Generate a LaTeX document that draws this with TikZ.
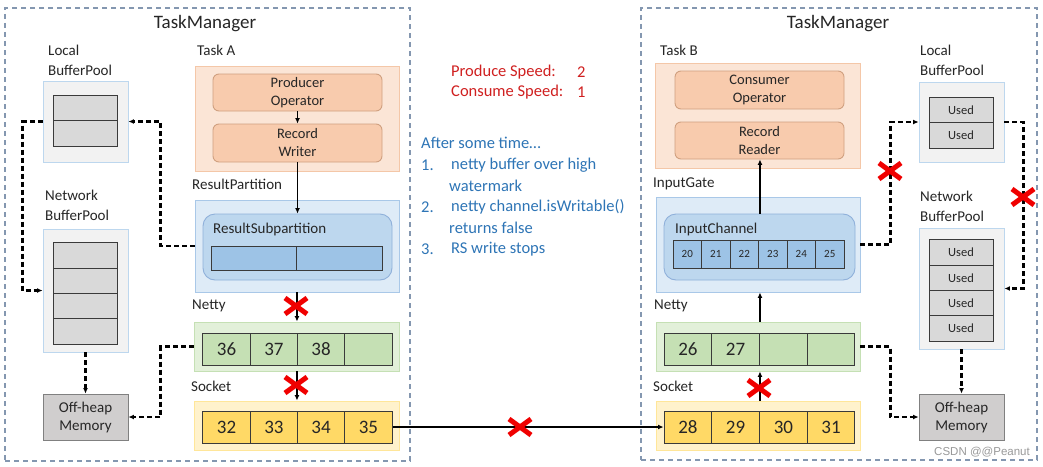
\documentclass[tikz,border=0pt]{standalone}
\usepackage{fontspec}
\setmainfont{Carlito}
\newfontfamily\wmfont{Liberation Sans}
\usetikzlibrary{arrows.meta}
\definecolor{tmc}{HTML}{8497B0}
\definecolor{txt}{HTML}{262626}
\definecolor{peachF}{HTML}{FBE5D6}
\definecolor{peachD}{HTML}{F4C7A8}
\definecolor{peachIF}{HTML}{F8CBAD}
\definecolor{peachID}{HTML}{D0A080}
\definecolor{blueF}{HTML}{DEEBF7}
\definecolor{blueD}{HTML}{A9C8E8}
\definecolor{blueIF}{HTML}{BDD7EE}
\definecolor{blueID}{HTML}{8FB0DA}
\definecolor{blueC}{HTML}{9DC3E6}
\definecolor{greenF}{HTML}{E2F0D9}
\definecolor{greenD}{HTML}{C5E0B4}
\definecolor{greenC}{HTML}{C5E0B4}
\definecolor{yellowF}{HTML}{FFF2CC}
\definecolor{yellowD}{HTML}{FFE699}
\definecolor{yellowC}{HTML}{FFD966}
\definecolor{poolF}{HTML}{F2F2F2}
\definecolor{poolD}{HTML}{BDD7EE}
\definecolor{poolC}{HTML}{D9D9D9}
\definecolor{ohF}{HTML}{D0CECE}
\definecolor{cellD}{HTML}{3A3A3A}
\definecolor{xred}{HTML}{F00000}
\definecolor{redt}{HTML}{D02020}
\definecolor{bluet}{HTML}{2E75B6}
\tikzset{
  tmbox/.style={draw=tmc, dash pattern=on 5pt off 4pt, line width=1.3pt, inner sep=0},
  ttl/.style={font=\fontsize{19}{22}\selectfont, text=txt, inner sep=0},
  lbl/.style={anchor=west, align=left, font=\fontsize{15}{20}\selectfont, text=txt, inner sep=0},
  outer/.style={inner sep=0, line width=0.9pt},
  peach/.style={outer, draw=peachD, fill=peachF},
  peachin/.style={outer, draw=peachID, fill=peachIF, rounded corners=6pt, align=center,
     font=\fontsize{14.5}{18}\selectfont, text=txt, minimum width=169, minimum height=37},
  bluebox/.style={outer, draw=blueD, fill=blueF},
  bluein/.style={outer, draw=blueID, fill=blueIF, rounded corners=12pt},
  greenbox/.style={outer, draw=greenD, fill=greenF},
  yellowbox/.style={outer, draw=yellowD, fill=yellowF},
  poolbox/.style={outer, draw=poolD, fill=poolF, minimum width=85},
  ohbox/.style={outer, draw=gray, fill=ohF, minimum width=85, minimum height=46,
     align=center, font=\fontsize{15}{18}\selectfont, text=txt},
  cell/.style={draw=cellD, line width=1pt, inner sep=0, text=txt},
  bigcell/.style={cell, minimum height=32, font=\fontsize{19}{22}\selectfont},
  gcell/.style={bigcell, fill=greenC, minimum width=47.25},
  ycell/.style={bigcell, fill=yellowC, minimum width=47.25},
  grcell/.style={bigcell, fill=greenC, minimum width=47.75},
  yrcell/.style={bigcell, fill=yellowC, minimum width=47.75},
  bcell/.style={cell, fill=blueC, minimum width=85.5, minimum height=24},
  scell/.style={cell, fill=blueC, minimum width=28.5, minimum height=28, font=\fontsize{11}{13}\selectfont},
  pcell/.style={cell, fill=poolC, minimum width=64, font=\fontsize{12.5}{15}\selectfont},
  solid arrow/.style={line width=1.6pt, draw=black, -{Latex[length=5.5pt,width=5pt]}},
  dash arrow/.style={line width=2.3pt, draw=black, dash pattern=on 5pt off 3pt, -{Latex[length=5.5pt,width=5pt]}},
  redtxt/.style={anchor=west, inner sep=0, text=redt, font=\fontsize{16.5}{20}\selectfont},
  bluetxt/.style={anchor=west, inner sep=0, text=bluet, font=\fontsize{16.5}{20}\selectfont},
  redx/.pic={\draw[xred, line width=5pt] (-11,-8)--(11,8) (-11,8)--(11,-8);}
}
\begin{document}
\begin{tikzpicture}[x=1pt,y=-1pt]
\path[use as bounding box, fill=white] (0,0) rectangle (1043,466);

% ===== Left TaskManager =====
\node[tmbox, minimum width=405, minimum height=453] (tmL) at (207.5,234.5) {};
\node[ttl] (tmLt) at (205,24) {TaskManager};

\node[lbl] (taskA) at (197,50) {Task A};
\node[peach, minimum width=204, minimum height=105] (taskAbox) at (297,118.5) {};
\node[peachin] (prod) at (297.5,92.5) {Producer\\Operator};
\node[peachin, minimum height=38] (writer) at (297.5,143) {Record\\Writer};

\node[lbl] (rpl) at (192,184) {ResultPartition};
\node[bluebox, minimum width=204, minimum height=92] (rp) at (297,246) {};
\node[bluein, minimum width=189, minimum height=66] (rs) at (297.5,247) {};
\node[lbl] (rsl) at (213,229) {ResultSubpartition};
\node[bcell] (rs1) at (253.75,258) {};
\node[bcell] (rs2) at (339.25,258) {};

\node[lbl] (nettyLl) at (192,306) {Netty};
\node[greenbox, minimum width=205, minimum height=49] (nettyL) at (296.5,346.5) {};
\foreach \i/\x/\t in {1/226.6/36, 2/273.9/37, 3/321.1/38, 4/368.4/{}}
  \node[gcell] (nL\i) at (\x,349) {\t};

\node[lbl] (sockLl) at (191,386) {Socket};
\node[yellowbox, minimum width=205, minimum height=49] (sockL) at (296.5,425.5) {};
\foreach \i/\x/\t in {1/226.6/32, 2/273.9/33, 3/321.1/34, 4/368.4/35}
  \node[ycell] (sL\i) at (\x,427) {\t};

\node[lbl] (lbpLl) at (48,60) {Local\\BufferPool};
\node[poolbox, minimum height=81] (lbpL) at (85.5,121.5) {};
\node[pcell, minimum height=25.5] (lbpL1) at (85,107.75) {};
\node[pcell, minimum height=25.5] (lbpL2) at (85,133.25) {};

\node[lbl] (nbpLl) at (45,205) {Network\\BufferPool};
\node[poolbox, minimum height=123] (nbpL) at (85.5,290.5) {};
\foreach \i/\y in {1/255.6, 2/280.9, 3/306.1, 4/331.4}
  \node[pcell, minimum height=25.25] (nbpL\i) at (85,\y) {};

\node[ohbox] (ohL) at (85.5,417) {Off-heap\\Memory};

% left connectors
\draw[solid arrow] (prod.south) -- (writer.north);
\draw[solid arrow] (writer.south) -- (rs.north);
\draw[solid arrow] (rp.south -| nL3.west) -- (nettyL.north -| nL3.west);
\draw[solid arrow] (nettyL.south -| nL3.west) -- (sockL.north -| nL3.west);
\pic at (296,306) {redx};
\pic at (296,385) {redx};

\draw[dash arrow] (rp.west) -- ++(-34,0) |- (lbpL.east);
\draw[dash arrow] (lbpL.west) -- ++(-20,0) |- (nbpL.west);
\draw[dash arrow] (nbpL.south) -- (ohL.north);
\draw[dash arrow] (nettyL.west) -- ++(-33,0) |- (ohL.east);

% ===== Middle text =====
\node[redtxt] (ps) at (451,72) {Produce Speed:};
\node[redtxt] (psv) at (577,72) {2};
\node[redtxt] (cs) at (451,92) {Consume Speed:};
\node[redtxt] (csv) at (577,92) {1};

\node[bluetxt] (b0) at (421,143) {After some time…};
\node[bluetxt] (b1n) at (421,165) {1.};
\node[bluetxt] (b1) at (451,165) {netty buffer over high};
\node[bluetxt] (b1b) at (449,186) {watermark};
\node[bluetxt] (b2n) at (421,207) {2.};
\node[bluetxt] (b2) at (451,207) {netty channel.isWritable()};
\node[bluetxt] (b2b) at (449,228) {returns false};
\node[bluetxt] (b3n) at (421,249) {3.};
\node[bluetxt] (b3) at (451,249) {RS write stops};

% ===== Right TaskManager =====
\node[tmbox, minimum width=396, minimum height=452] (tmR) at (839,234) {};
\node[ttl] (tmRt) at (838,24) {TaskManager};

\node[lbl] (taskB) at (660,50) {Task B};
\node[peach, minimum width=205, minimum height=105] (taskBbox) at (757.5,115.5) {};
\node[peachin, minimum height=38] (cons) at (759.5,90) {Consumer\\Operator};
\node[peachin] (reader) at (759.5,140.5) {Record\\Reader};

\node[lbl] (igl) at (653,184) {InputGate};
\node[bluebox, minimum width=204, minimum height=95] (ig) at (758,244.5) {};
\node[bluein, minimum width=191, minimum height=66] (ic) at (759.5,247) {};
\node[lbl] (icl) at (675,229) {InputChannel};
\foreach \i/\x/\t in {1/687.25/20, 2/715.75/21, 3/744.25/22, 4/772.75/23, 5/801.25/24, 6/829.75/25}
  \node[scell] (ic\i) at (\x,254) {\t};

\node[lbl] (nettyRl) at (654,306) {Netty};
\node[greenbox, minimum width=204, minimum height=49] (nettyR) at (758,346.5) {};
\foreach \i/\x/\t in {1/687.9/26, 2/735.6/27, 3/783.4/{}, 4/831.1/{}}
  \node[grcell] (nR\i) at (\x,349) {\t};

\node[lbl] (sockRl) at (653,386) {Socket};
\node[yellowbox, minimum width=204, minimum height=49] (sockR) at (758,425.5) {};
\foreach \i/\x/\t in {1/687.9/28, 2/735.6/29, 3/783.4/30, 4/831.1/31}
  \node[yrcell] (sR\i) at (\x,427) {\t};

\node[lbl] (lbpRl) at (920,60) {Local\\BufferPool};
\node[poolbox, minimum height=80] (lbpR) at (961.5,122) {};
\node[pcell, minimum height=25.5] (lbpR1) at (961,109.75) {Used};
\node[pcell, minimum height=25.5] (lbpR2) at (961,135.25) {Used};

\node[lbl] (nbpRl) at (920,206) {Network\\BufferPool};
\node[poolbox, minimum height=121] (nbpR) at (961.5,288.5) {};
\foreach \i/\y in {1/252.6, 2/277.9, 3/303.1, 4/328.4}
  \node[pcell, minimum height=25.25] (nbpR\i) at (961,\y) {Used};

\node[ohbox] (ohR) at (961.5,417) {Off-heap\\Memory};

% right connectors
\draw[solid arrow] (sockR.north -| nR2.east) -- (nettyR.south -| nR2.east);
\draw[solid arrow] (nettyR.north -| nR2.east) -- (ig.south -| nR2.east);
\draw[solid arrow] (ic.north -| nR2.east) -- (reader.south -| nR2.east);
\pic at (759,388) {redx};

\draw[dash arrow] (ig.east) -- ++(30,0) |- (lbpR.west);
\draw[dash arrow] (lbpR.east) -- ++(19,0) |- (nbpR.east);
\draw[dash arrow] (nbpR.south) -- (ohR.north);
\draw[dash arrow] (nettyR.east) -- ++(30,0) |- (ohR.west);
\pic at (890,171) {redx};
\pic at (1023,197) {redx};

% socket to socket
\draw[solid arrow] (sL4.east) -- (sR1.west);
\pic at (520,427) {redx};

\node[inner sep=0, anchor=east, text=gray!80, font=\wmfont\fontsize{11.5}{13}\selectfont] (wm) at (1030,452) {CSDN @@Peanut};
\end{tikzpicture}
\end{document}
